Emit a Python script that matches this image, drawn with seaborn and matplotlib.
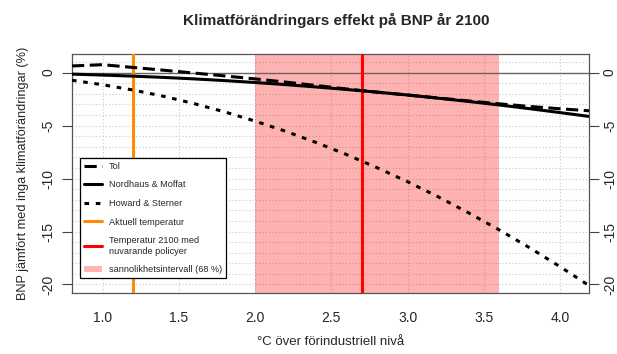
import numpy as np
import pandas as pd
import seaborn as sns
import matplotlib.pyplot as plt
from matplotlib.lines import Line2D
from matplotlib.patches import Patch

# temperature grid (°C above pre-industrial) and read-off GDP impact (%)
temp = [0.8, 1.0, 1.2, 1.4, 1.6, 1.8, 2.0, 2.2, 2.4, 2.6, 2.8, 3.0,
        3.2, 3.4, 3.6, 3.8, 4.0, 4.2]
tol = [0.62, 0.74, 0.48, 0.22, -0.05, -0.32, -0.6, -0.9, -1.22, -1.55,
       -1.85, -2.12, -2.4, -2.68, -2.95, -3.2, -3.42, -3.62]
nordhaus = [-0.15, -0.24, -0.34, -0.46, -0.6, -0.76, -0.94, -1.14, -1.36,
            -1.6, -1.85, -2.12, -2.42, -2.73, -3.06, -3.41, -3.78, -4.16]
howard = [-0.73, -1.15, -1.65, -2.24, -2.93, -3.71, -4.58, -5.54, -6.6,
          -7.74, -8.98, -10.3, -11.72, -13.24, -14.84, -16.53, -18.32, -20.2]

current_temp = 1.2
temp_2100 = 2.7
interval_68 = (2.0, 3.6)

xticks = [1.0, 1.5, 2.0, 2.5, 3.0, 3.5, 4.0]
yticks = [0, -5, -10, -15, -20]

sns.set_style('white')
plt.rcParams['font.family'] = ['Liberation Sans', 'DejaVu Sans']

d = pd.DataFrame({'T': temp, 'Tol': tol, 'NM': nordhaus, 'HS': howard})

fig = plt.figure(figsize=(6.17, 3.54), dpi=100)
ax = fig.add_axes([0.1167, 0.1715, 0.838, 0.676])

ax.set_xlim(0.8, 4.19)
ax.set_ylim(-20.83, 1.75)

# grid
for x in np.arange(1.0, 4.01, 0.5):
    ax.axvline(x, color='#c8c8c8', lw=0.8, ls=(0, (1, 2)), zorder=0)
for y in range(-20, 2):
    ax.axhline(y, color='#c8c8c8', lw=0.8, ls=(0, (1, 2)), zorder=0)

ax.axvspan(*interval_68, color='#ff0000', alpha=0.3, lw=0, zorder=1)
ax.axhline(0, color='#666666', lw=1.0, zorder=2)
ax.axvline(current_temp, color='#ff8c00', lw=2.2, zorder=3)
ax.axvline(temp_2100, color='#ff0000', lw=2.2, zorder=3)

lw = 2.2
tol_dash = (4.0, 1.8)
hs_dash = (1.5, 2.2)
sns.lineplot(data=d, x='T', y='Tol', ax=ax, color='black', lw=lw,
             zorder=4).lines[-1].set_dashes(tol_dash)
sns.lineplot(data=d, x='T', y='NM', ax=ax, color='black', lw=lw, zorder=4)
sns.lineplot(data=d, x='T', y='HS', ax=ax, color='black', lw=lw,
             zorder=4).lines[-1].set_dashes(hs_dash)

ax.set_xticks(xticks)
ax.set_xticklabels(['%.1f' % v for v in xticks])
ax.set_yticks(yticks)
ax.set_yticklabels([str(v) for v in yticks], rotation=90, va='center')
ax.tick_params(axis='both', length=7, width=0.8, color='#444444',
               labelsize=10, pad=5, direction='out')
ax.tick_params(axis='x', pad=6)
for s in ax.spines.values():
    s.set_color('#555555')
    s.set_linewidth(0.9)

ax2 = ax.twinx()
ax2.set_ylim(ax.get_ylim())
ax2.set_yticks(yticks)
ax2.set_yticklabels([str(v) for v in yticks], rotation=90, va='center')
ax2.tick_params(axis='y', length=7, width=0.8, color='#444444',
                labelsize=10, pad=3, direction='out')
for s in ax2.spines.values():
    s.set_visible(False)

ax.set_xlabel('°C över förindustriell nivå', fontsize=9.5, labelpad=8)
ax.set_ylabel('BNP jämfört med inga klimatförändringar (%)', fontsize=9.2,
              labelpad=9)
fig.text(0.545, 0.943, 'Klimatförändringars effekt på BNP år 2100',
         ha='center', va='center', fontsize=11, fontweight='bold')

handles = [
    Line2D([], [], color='black', lw=lw, dashes=tol_dash),
    Line2D([], [], color='black', lw=lw),
    Line2D([], [], color='black', lw=lw, dashes=hs_dash),
    Line2D([], [], color='#ff8c00', lw=lw),
    Line2D([], [], color='#ff0000', lw=lw),
    Patch(facecolor='#ffb3b3', edgecolor='none'),
]
labels = ['Tol', 'Nordhaus & Moffat', 'Howard & Sterner',
          'Aktuell temperatur', 'Temperatur 2100 med\nnuvarande policyer',
          'sannolikhetsintervall (68 %)']
leg = ax.legend(handles, labels, loc='lower left',
                bbox_to_anchor=(80 / 617, (354 - 278) / 354),
                bbox_transform=fig.transFigure, fontsize=6.6, frameon=True,
                fancybox=False, edgecolor='black', framealpha=1,
                handlelength=2.0, handletextpad=0.75, labelspacing=1.05,
                borderpad=0.4, borderaxespad=0)
leg.get_frame().set_linewidth(0.9)
leg.set_zorder(10)

fig.savefig('out.png', dpi=100)
